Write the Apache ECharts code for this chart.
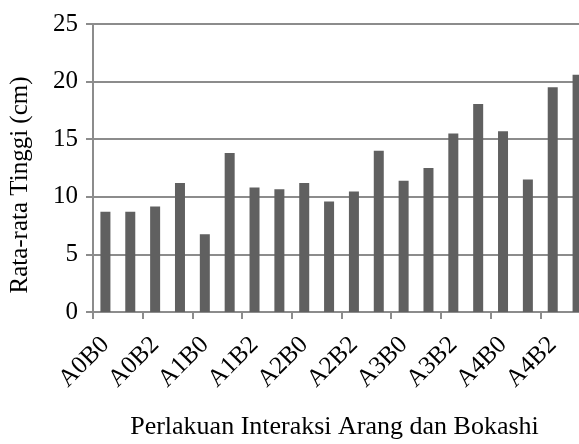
<!DOCTYPE html>
<html>
<head>
<meta charset="utf-8">
<script src="https://cdn.jsdelivr.net/npm/echarts@6/dist/echarts.min.js"></script>
<style>
  html, body { margin: 0; padding: 0; background: #fff; }
  #container { width: 579px; height: 444px; }
</style>
</head>
<body>
<div id="container"></div>
<script>
  var categories = ['A0B0','A0B1','A0B2','A0B3','A1B0','A1B1','A1B2','A1B3','A2B0','A2B1',
                    'A2B2','A2B3','A3B0','A3B1','A3B2','A3B3','A4B0','A4B1','A4B2','A4B3'];
  var tinggi = [8.7, 8.7, 9.15, 11.2, 6.75, 13.8, 10.8, 10.65, 11.2, 9.6,
                10.45, 14.0, 11.4, 12.5, 15.5, 18.05, 15.7, 11.5, 19.5, 20.6];

  var font = 'Liberation Serif';
  var myChart = echarts.init(document.getElementById('container'));
  var option = {
    animation: false,
    grid: {
      left: 93,
      top: 24,
      width: 497,
      height: 288,
      outerBoundsMode: 'none'  // plot runs past the right edge like the original
    },
    xAxis: {
      type: 'category',
      data: categories,
      name: 'Perlakuan Interaksi Arang dan Bokashi',
      nameLocation: 'middle',
      nameGap: 102,
      nameTextStyle: { fontFamily: font, fontSize: 26, color: '#000', padding: [0, 14, 0, 0] },
      axisLine: { lineStyle: { color: '#8c8c8c', width: 2 } },
      axisTick: { show: true, length: 7, lineStyle: { color: '#8c8c8c', width: 2 } },
      axisLabel: {
        interval: 1,
        rotate: 45,
        margin: 29,
        fontFamily: font,
        fontSize: 25,
        color: '#000'
      }
    },
    yAxis: {
      type: 'value',
      min: 0,
      max: 25,
      interval: 5,
      name: 'Rata-rata Tinggi (cm)',
      nameLocation: 'middle',
      nameGap: 60,
      nameTextStyle: { fontFamily: font, fontSize: 25, color: '#000', padding: [0, 34, 0, 0] },
      axisLine: { show: true, lineStyle: { color: '#8c8c8c', width: 2 } },
      axisTick: { show: true, length: 7, lineStyle: { color: '#8c8c8c', width: 2 } },
      splitLine: { lineStyle: { color: '#8c8c8c', width: 2 } },
      axisLabel: {
        margin: 15,
        fontFamily: font,
        fontSize: 25,
        color: '#000'
      }
    },
    series: [
      {
        type: 'bar',
        data: tinggi,
        barWidth: 10,
        itemStyle: { color: '#606060' }
      }
    ]
  };
  myChart.setOption(option);
</script>
</body>
</html>
